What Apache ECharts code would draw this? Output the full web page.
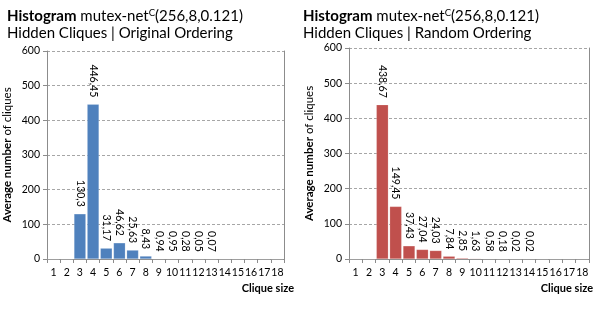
<!DOCTYPE html>
<html>
<head>
<meta charset="utf-8">
<script src="https://cdn.jsdelivr.net/npm/echarts@6/dist/echarts.min.js"></script>
<style>html,body{margin:0;padding:0;background:#fff}#c{width:598px;height:310px}</style>
</head>
<body>
<div id="c"></div>
<script>
var categories = ['1','2','3','4','5','6','7','8','9','10','11','12','13','14','15','16','17','18'];
var originalValues = [0, 0, 130.3, 446.45, 31.17, 46.62, 25.63, 8.43, 0.94, 0.95, 0.28, 0.05, 0.07, 0, 0, 0, 0, 0];
var randomValues = [0, 0, 438.67, 149.45, 37.43, 27.04, 24.03, 7.84, 2.85, 1.63, 0.58, 0.18, 0.02, 0.02, 0, 0, 0, 0];
var yTicks = { min: 0, max: 600, interval: 100 };
var titleLine1 = ['Histogram', ' mutex-net', 'C', '(256,8,0.121)'];
var subtitleLeft = 'Hidden Cliques | Original Ordering';
var subtitleRight = 'Hidden Cliques | Random Ordering';
var yAxisTitle = ['Average number', ' of cliques'];
var xAxisTitle = 'Clique size';

var FONT = 'Lato';
var chart = echarts.init(document.getElementById('c'), null, { renderer: 'canvas' });

function titleBlock(x, subtitle) {
  return {
    left: x, top: 3,
    text: '{b|' + titleLine1[0] + '}{n|' + titleLine1[1] + '}{s|' + titleLine1[2] + '}{n|' + titleLine1[3] + '}\n{n|' + subtitle + '}',
    textStyle: {
      fontFamily: FONT, fontWeight: 'normal',
      rich: {
        b: { fontFamily: FONT, fontWeight: 'bold', fontSize: 15, color: '#000', lineHeight: 17 },
        n: { fontFamily: FONT, fontWeight: 'normal', fontSize: 15, color: '#000', lineHeight: 17 },
        s: { fontFamily: FONT, fontWeight: 'normal', fontSize: 9.5, color: '#000', lineHeight: 17, verticalAlign: 'top' }
      }
    }
  };
}

function labelFmt(p) {
  if (!p.value) return '';
  return String(p.value).replace('.', ',');
}

function xAxisDef(gi) {
  return {
    type: 'category', gridIndex: gi, data: categories,
    axisLine: { lineStyle: { color: '#8c8c8c' } },
    axisTick: { show: true, length: 4, lineStyle: { color: '#8c8c8c' } },
    axisLabel: { fontFamily: FONT, fontSize: 10.5, color: '#000', margin: 8, interval: 0 },
    splitLine: { show: false }
  };
}

function yAxisDef(gi) {
  return {
    type: 'value', gridIndex: gi, min: yTicks.min, max: yTicks.max, interval: yTicks.interval,
    axisLine: { show: true, lineStyle: { color: '#8c8c8c' } },
    axisTick: { show: true, length: 4, lineStyle: { color: '#8c8c8c' } },
    axisLabel: { fontFamily: FONT, fontSize: 10.5, color: '#000', margin: 7 },
    splitLine: { show: true, lineStyle: { color: '#a6a6a6', type: [3, 2], width: 1 } },
    name: '{b|' + yAxisTitle[0] + '}{n|' + yAxisTitle[1] + '}',
    nameLocation: 'middle', nameRotate: 90, nameGap: 34,
    nameTextStyle: {
      rich: {
        b: { fontFamily: FONT, fontWeight: 'bold', fontSize: 11.5, color: '#000' },
        n: { fontFamily: FONT, fontWeight: 'normal', fontSize: 11.5, color: '#000' }
      }
    }
  };
}

function rightBorderAxis(gi) {
  return {
    type: 'value', gridIndex: gi, position: 'right', min: yTicks.min, max: yTicks.max, interval: yTicks.interval,
    axisLine: { show: true, lineStyle: { color: '#8c8c8c' } },
    axisTick: { show: false }, axisLabel: { show: false }, splitLine: { show: false }
  };
}

function barSeries(gi, data, color) {
  return {
    type: 'bar', xAxisIndex: gi, yAxisIndex: gi * 2, data: data,
    barCategoryGap: '10%',
    itemStyle: { color: color, borderColor: 'rgba(255,255,255,0.35)', borderWidth: 0.5 },
    label: {
      show: true, position: 'top', rotate: -90, align: 'right', verticalAlign: 'middle',
      distance: 7, fontFamily: FONT, fontSize: 10.5, color: '#000', formatter: labelFmt
    }
  };
}

chart.setOption({
  animation: false,
  backgroundColor: '#fff',
  title: [titleBlock(2, subtitleLeft), titleBlock(298, subtitleRight)],
  grid: [
    { left: 46, right: 314, top: 51, bottom: 51 },
    { left: 349, right: 9, top: 48, bottom: 51 }
  ],
  xAxis: [xAxisDef(0), xAxisDef(1)],
  yAxis: [yAxisDef(0), rightBorderAxis(0), yAxisDef(1), rightBorderAxis(1)],
  series: [
    barSeries(0, originalValues, '#4F81BD'),
    barSeries(1, randomValues, '#C0504D')
  ],
  graphic: [
    { type: 'text', right: 598 - 294, top: 283, style: { text: xAxisTitle, font: 'bold 11px "' + FONT + '"', fill: '#000' } },
    { type: 'text', right: 5, top: 283, style: { text: xAxisTitle, font: 'bold 11px "' + FONT + '"', fill: '#000' } }
  ]
});
</script>
</body>
</html>
